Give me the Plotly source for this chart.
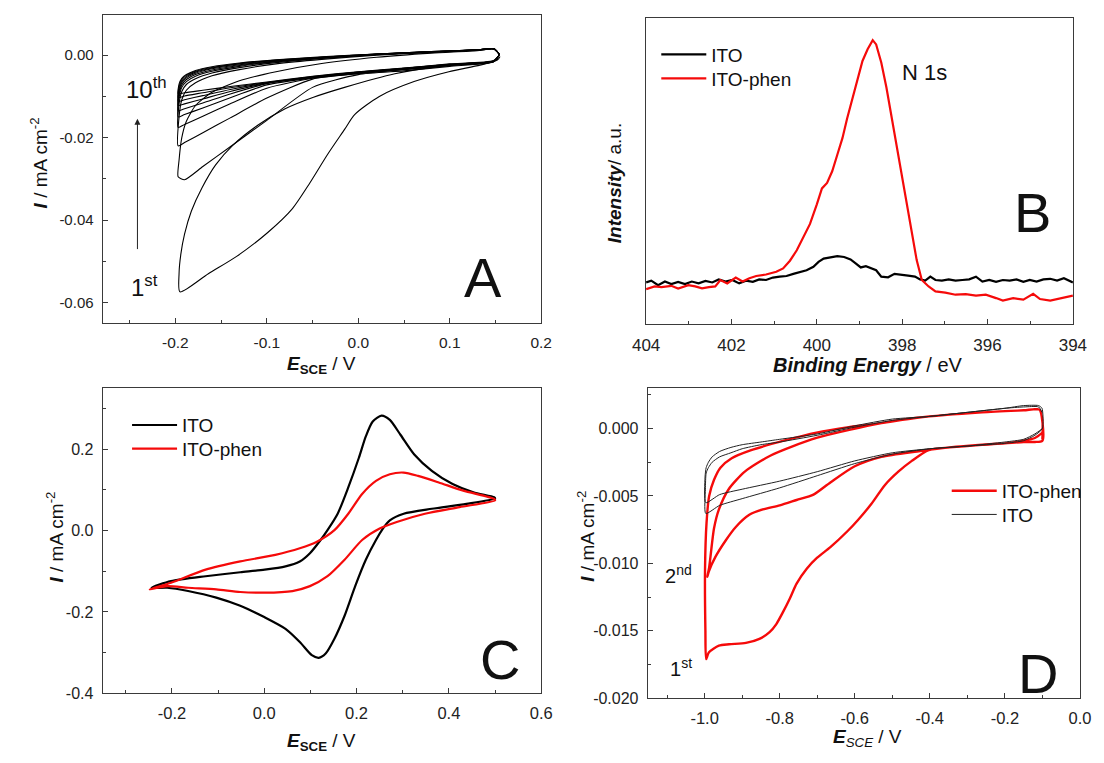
import plotly.graph_objects as go

FONT = "Arial, 'Liberation Sans', sans-serif"
W, H = 1104, 763

# ---------------- Panel A : 10 CV cycles (ITO in diazonium solution) ----------------
A_c1_x = [0.155, 0.152, 0.133, 0.099, 0.061, 0.023, -0.004, -0.015, -0.034, -0.053, -0.072, -0.099, -0.133, -0.164, -0.195,
          -0.196, -0.194, -0.190, -0.1825, -0.171, -0.156, -0.137, -0.110, -0.080, -0.049, -0.015, 0.040, 0.100, 0.148, 0.154]
A_c1_y = [-0.0003, -0.0012, -0.0024, -0.0040, -0.0064, -0.0100, -0.0144, -0.0180, -0.0242, -0.0310, -0.0372, -0.0430, -0.0488, -0.0530, -0.0574,
          -0.0530, -0.0482, -0.0434, -0.0378, -0.0322, -0.0266, -0.0218, -0.0170, -0.0130, -0.0102, -0.0078, -0.0045, -0.0024, -0.0016, -0.0008]

A_cat_x = [0.154, 0.148, 0.100, 0.050, 0.000, -0.050, -0.100, -0.140, -0.170, -0.190, -0.197]
A_an_x = [-0.196, -0.193, -0.188, -0.178, -0.160, -0.130, -0.090, -0.040, 0.020, 0.080, 0.130, 0.148, 0.154]

A_cat_y = {
    2: [0.0002, -0.0016, -0.0027, -0.0038, -0.0047, -0.0078, -0.0158, -0.0222, -0.0270, -0.0302, -0.0295],
    3: [0.0002, -0.0015, -0.0025, -0.0035, -0.0045, -0.0058, -0.0104, -0.0152, -0.0188, -0.0212, -0.0220],
    4: [0.0002, -0.0015, -0.0024, -0.0034, -0.0044, -0.0056, -0.0080, -0.0118, -0.0148, -0.0168, -0.0175],
    5: [0.0002, -0.0015, -0.0024, -0.0034, -0.0043, -0.0055, -0.0072, -0.0103, -0.0128, -0.0144, -0.0150],
    6: [0.0002, -0.0014, -0.0023, -0.0033, -0.0042, -0.0054, -0.0069, -0.0094, -0.0116, -0.0130, -0.0135],
    7: [0.0002, -0.0014, -0.0023, -0.0033, -0.0042, -0.0053, -0.0068, -0.0088, -0.0106, -0.0118, -0.0122],
    8: [0.0002, -0.0014, -0.0022, -0.0032, -0.0041, -0.0053, -0.0067, -0.0083, -0.0098, -0.0108, -0.0112],
    9: [0.0002, -0.0014, -0.0022, -0.0032, -0.0041, -0.0052, -0.0066, -0.0079, -0.0091, -0.0099, -0.0103],
    10: [0.0002, -0.0013, -0.0021, -0.0031, -0.0040, -0.0051, -0.0065, -0.0076, -0.0085, -0.0091, -0.0094],
}
A_an_y = {
    2: [-0.0255, -0.0200, -0.0160, -0.0122, -0.0090, -0.0062, -0.0040, -0.0020, -0.0005, 0.0005, 0.0011, 0.0015, 0.0002],
    3: [-0.0150, -0.0108, -0.0085, -0.0067, -0.0050, -0.0035, -0.0021, -0.0010, 0.0000, 0.0007, 0.0012, 0.0015, 0.0002],
    4: [-0.0118, -0.0088, -0.0071, -0.0057, -0.0043, -0.0030, -0.0018, -0.0008, 0.0001, 0.0008, 0.0012, 0.0015, 0.0002],
    5: [-0.0104, -0.0078, -0.0064, -0.0051, -0.0039, -0.0027, -0.0016, -0.0007, 0.0002, 0.0008, 0.0013, 0.0016, 0.0002],
    6: [-0.0095, -0.0072, -0.0059, -0.0047, -0.0036, -0.0025, -0.0015, -0.0006, 0.0002, 0.0008, 0.0013, 0.0016, 0.0002],
    7: [-0.0088, -0.0067, -0.0055, -0.0044, -0.0033, -0.0023, -0.0014, -0.0006, 0.0002, 0.0008, 0.0013, 0.0016, 0.0002],
    8: [-0.0082, -0.0063, -0.0052, -0.0041, -0.0031, -0.0021, -0.0013, -0.0005, 0.0003, 0.0009, 0.0013, 0.0016, 0.0002],
    9: [-0.0076, -0.0059, -0.0049, -0.0039, -0.0030, -0.0020, -0.0012, -0.0005, 0.0003, 0.0009, 0.0013, 0.0016, 0.0002],
    10: [-0.0070, -0.0056, -0.0047, -0.0037, -0.0028, -0.0019, -0.0011, -0.0004, 0.0003, 0.0009, 0.0013, 0.0016, 0.0002],
}

# ---------------- Panel B : XPS N 1s ----------------
B_ito_x = [404.00, 403.88, 403.72, 403.56, 403.41, 403.25, 403.09, 402.93, 402.77, 402.61, 402.45, 402.30, 402.14, 401.98,
           401.82, 401.66, 401.50, 401.35, 401.19, 401.03, 400.87, 400.71, 400.55, 400.39, 400.24, 400.08, 399.96, 399.84,
           399.68, 399.52, 399.36, 399.21, 399.09, 398.97, 398.85, 398.73, 398.61, 398.49, 398.33, 398.18, 398.02, 397.86,
           397.70, 397.58, 397.46, 397.34, 397.22, 397.07, 396.91, 396.75, 396.59, 396.43, 396.27, 396.12, 395.96, 395.80,
           395.64, 395.48, 395.32, 395.16, 395.01, 394.85, 394.69, 394.53, 394.37, 394.21, 394.00]
B_ito_y = [13.7, 14.3, 12.8, 14.0, 13.2, 13.9, 13.2, 14.0, 13.4, 14.2, 13.7, 14.7, 14.0, 14.5, 13.4, 14.3, 13.9, 14.7, 14.5,
           15.3, 15.6, 15.8, 16.5, 17.1, 17.7, 18.8, 20.4, 21.5, 22.0, 22.3, 22.0, 21.2, 19.9, 18.6, 19.0, 18.3, 17.7, 15.6,
           15.4, 16.5, 16.1, 15.9, 15.6, 14.7, 14.3, 15.6, 14.5, 14.3, 14.7, 14.3, 14.5, 14.7, 15.6, 14.0, 14.5, 13.9, 14.5,
           14.3, 14.7, 13.9, 14.5, 14.0, 14.7, 14.9, 14.3, 15.1, 13.7]
B_phen_x = [404.00, 403.80, 403.64, 403.41, 403.25, 403.01, 402.85, 402.69, 402.53, 402.38, 402.26, 402.10, 401.90, 401.74,
            401.58, 401.42, 401.19, 400.95, 400.79, 400.63, 400.47, 400.32, 400.16, 400.00, 399.88, 399.76, 399.64, 399.52,
            399.40, 399.29, 399.17, 399.05, 398.93, 398.81, 398.69, 398.61, 398.49, 398.37, 398.26, 398.14, 398.02, 397.90,
            397.78, 397.66, 397.54, 397.38, 397.22, 396.99, 396.75, 396.51, 396.27, 396.04, 395.80, 395.64, 395.40, 395.16,
            394.93, 394.77, 394.53, 394.29, 394.13, 394.00]
B_phen_y = [11.5, 12.4, 12.2, 12.6, 11.7, 12.8, 12.4, 11.8, 12.2, 12.4, 14.5, 13.4, 15.3, 14.0, 15.1, 15.8, 16.3, 17.2, 18.3,
            20.8, 24.2, 28.5, 32.8, 39.2, 44.4, 46.2, 50.0, 55.4, 60.8, 67.2, 73.7, 80.1, 86.0, 89.8, 92.8, 91.4, 85.5, 77.4,
            68.8, 59.7, 50.0, 40.3, 30.6, 21.0, 14.5, 12.4, 10.8, 10.4, 9.7, 9.9, 9.4, 9.7, 8.6, 7.8, 8.6, 8.1, 10.0, 8.3,
            7.8, 8.6, 9.1, 9.4]

# ---------------- Panel C : ferricyanide CVs ----------------
C_ito_x = [-0.244, -0.202, -0.127, -0.052, 0.001, 0.046, 0.077, 0.099, 0.122, 0.137, 0.159, 0.182, 0.205, 0.220, 0.235,
           0.254, 0.272, 0.295, 0.325, 0.363, 0.408, 0.453, 0.498, 0.500, 0.438, 0.363, 0.302, 0.272, 0.257, 0.242, 0.220,
           0.197, 0.174, 0.152, 0.133, 0.118, 0.103, 0.077, 0.046, 0.001, -0.052, -0.104, -0.165, -0.210, -0.244]
C_ito_y = [-0.1406, -0.1244, -0.1123, -0.1026, -0.0962, -0.0881, -0.0760, -0.0558, -0.0234, 0.0008, 0.0412, 0.1058, 0.1786,
           0.2311, 0.2675, 0.2820, 0.2715, 0.2351, 0.1866, 0.1463, 0.1139, 0.0937, 0.0816, 0.0790, 0.0655, 0.0533, 0.0412,
           0.0250, 0.0048, -0.0234, -0.0719, -0.1366, -0.2093, -0.2658, -0.3022, -0.3127, -0.3062, -0.2739, -0.2416,
           -0.2133, -0.1850, -0.1648, -0.1487, -0.1406, -0.1406]
C_phen_x = [-0.248, -0.202, -0.127, -0.052, 0.024, 0.077, 0.114, 0.152, 0.182, 0.212, 0.242, 0.272, 0.302, 0.333, 0.378,
            0.431, 0.498, 0.500, 0.423, 0.348, 0.287, 0.250, 0.212, 0.174, 0.137, 0.099, 0.061, 0.001, -0.052, -0.104,
            -0.165, -0.210, -0.248]
C_phen_y = [-0.1446, -0.1285, -0.0962, -0.0760, -0.0598, -0.0436, -0.0275, 0.0008, 0.0412, 0.0897, 0.1220, 0.1382, 0.1422,
            0.1341, 0.1180, 0.0978, 0.0776, 0.0740, 0.0574, 0.0412, 0.0210, 0.0048, -0.0234, -0.0719, -0.1123, -0.1366,
            -0.1487, -0.1527, -0.1511, -0.1446, -0.1406, -0.1366, -0.1446]

# ---------------- Panel D : blank electrolyte CVs ----------------
D_phen_x = [-0.100, -0.120, -0.150, -0.200, -0.261, -0.347, -0.403, -0.448, -0.484, -0.520, -0.556, -0.592, -0.619, -0.665,
            -0.701, -0.728, -0.755, -0.773, -0.791, -0.809, -0.827, -0.854, -0.890, -0.935, -0.962, -0.989, -0.996,
            -0.998, -0.999, -0.995, -0.988, -0.975, -0.958, -0.928, -0.876, -0.789, -0.702, -0.616, -0.529, -0.434,
            -0.261, -0.150, -0.108, -0.100,
            -0.100, -0.120, -0.150, -0.200, -0.261, -0.347, -0.434, -0.529, -0.600, -0.665, -0.710, -0.755, -0.800,
            -0.845, -0.881, -0.917, -0.944, -0.971, -0.989, -0.993,
            -0.988, -0.975, -0.962, -0.936, -0.893, -0.824, -0.702, -0.529, -0.434, -0.261, -0.150, -0.108, -0.100, -0.100]
D_phen_y = [-0.0003, -0.0007, -0.0009, -0.0011, -0.0012, -0.0014, -0.0016, -0.0024, -0.0032, -0.0042, -0.0056, -0.0068,
            -0.0076, -0.0088, -0.0096, -0.0104, -0.0115, -0.0126, -0.0136, -0.0145, -0.0151, -0.0156, -0.0159, -0.0160,
            -0.0161, -0.0166, -0.0171,
            -0.0150, -0.0104, -0.0070, -0.0050, -0.0038, -0.0029, -0.0022, -0.0016, -0.0009, -0.0003, 0.0001, 0.0004,
            0.0008, 0.0012, 0.00135, 0.0014, 0.0005,
            -0.0009, -0.0010, -0.0010, -0.0011, -0.0012, -0.0014, -0.0017, -0.0021, -0.0028, -0.0040, -0.0049, -0.0053,
            -0.0057, -0.0060, -0.0064, -0.0073, -0.0083, -0.0095, -0.0106, -0.0110,
            -0.0103, -0.0074, -0.0060, -0.0045, -0.0032, -0.0020, -0.0007, 0.0004, 0.0008, 0.0012, 0.00135, 0.0014,
            0.0006, -0.0008]
D_ito_x = [-0.100, -0.120, -0.150, -0.200, -0.300, -0.400, -0.500, -0.600, -0.700, -0.800, -0.900, -0.960, -0.997,
           -0.999, -0.996, -0.990, -0.980, -0.960, -0.930, -0.900, -0.850, -0.800, -0.700, -0.600, -0.500, -0.400,
           -0.300, -0.200, -0.150, -0.110, -0.101,
           -0.100, -0.120, -0.150, -0.200, -0.300, -0.400, -0.500, -0.600, -0.700, -0.800, -0.900, -0.960, -0.997,
           -0.998, -0.996, -0.990, -0.980, -0.960, -0.930, -0.900, -0.850, -0.800, -0.700, -0.600, -0.500, -0.400,
           -0.300, -0.200, -0.150, -0.110, -0.101]
D_ito_y = [0.0000, -0.0004, -0.0008, -0.0010, -0.0013, -0.0015, -0.0018, -0.0024, -0.0032, -0.0039, -0.0045, -0.0049,
           -0.0055,
           -0.0036, -0.0029, -0.0025, -0.0021, -0.0017, -0.0014, -0.0012, -0.0010, -0.0008, -0.0004, 0.0002, 0.0007,
           0.0009, 0.0012, 0.0015, 0.0017, 0.0017, 0.0015,
           0.0000, -0.0005, -0.0009, -0.0011, -0.0013, -0.0015, -0.0019, -0.0026, -0.0035, -0.0044, -0.0052, -0.0057,
           -0.0063,
           -0.0045, -0.0033, -0.0029, -0.0025, -0.0021, -0.0018, -0.0015, -0.0012, -0.0010, -0.0005, 0.0001, 0.0006,
           0.0009, 0.0012, 0.0015, 0.0016, 0.0016, 0.0012]

# ---------------- ticks ----------------
A_xt = [-0.2, -0.1, 0.0, 0.1, 0.2]
A_xl = ["-0.2", "-0.1", "0.0", "0.1", "0.2"]
A_yt = [0.0, -0.02, -0.04, -0.06]
A_yl = ["0.00", "-0.02", "-0.04", "-0.06"]
B_xt = [404, 402, 400, 398, 396, 394]
B_xl = ["404", "402", "400", "398", "396", "394"]
C_xt = [-0.2, 0.0, 0.2, 0.4, 0.6]
C_xl = ["-0.2", "0.0", "0.2", "0.4", "0.6"]
C_yt = [0.2, 0.0, -0.2, -0.4]
C_yl = ["0.2", "0.0", "-0.2", "-0.4"]
D_xt = [-1.0, -0.8, -0.6, -0.4, -0.2, 0.0]
D_xl = ["-1.0", "-0.8", "-0.6", "-0.4", "-0.2", "0.0"]
D_yt = [0.0, -0.005, -0.010, -0.015, -0.020]
D_yl = ["0.000", "-0.005", "-0.010", "-0.015", "-0.020"]

RED = "#f50a0a"
fig = go.Figure()

fig.add_trace(go.Scatter(x=A_c1_x, y=A_c1_y, mode="lines", showlegend=False,
                         line=dict(color="black", width=1.1, shape="spline", smoothing=0.7), xaxis="x", yaxis="y"))
for n in range(2, 11):
    fig.add_trace(go.Scatter(x=A_cat_x + A_an_x, y=A_cat_y[n] + A_an_y[n], mode="lines", showlegend=False,
                             line=dict(color="black", width=1.1, shape="spline", smoothing=0.6), xaxis="x", yaxis="y"))

fig.add_trace(go.Scatter(x=B_ito_x, y=B_ito_y, mode="lines", name="ITO", legend="legend",
                         line=dict(color="black", width=2.2), xaxis="x2", yaxis="y2"))
fig.add_trace(go.Scatter(x=B_phen_x, y=B_phen_y, mode="lines", name="ITO-phen", legend="legend2",
                         line=dict(color=RED, width=2.2), xaxis="x2", yaxis="y2"))

fig.add_trace(go.Scatter(x=C_ito_x, y=C_ito_y, mode="lines", name="ITO", legend="legend3",
                         line=dict(color="black", width=2.2, shape="spline", smoothing=0.7), xaxis="x3", yaxis="y3"))
fig.add_trace(go.Scatter(x=C_phen_x, y=C_phen_y, mode="lines", name="ITO-phen", legend="legend4",
                         line=dict(color=RED, width=2.2, shape="spline", smoothing=0.7), xaxis="x3", yaxis="y3"))

fig.add_trace(go.Scatter(x=D_phen_x, y=D_phen_y, mode="lines", name="ITO-phen", legend="legend5",
                         line=dict(color=RED, width=2.4, shape="spline", smoothing=0.7), xaxis="x4", yaxis="y4"))
fig.add_trace(go.Scatter(x=D_ito_x, y=D_ito_y, mode="lines", name="ITO", legend="legend6",
                         line=dict(color="#222222", width=1.0, shape="spline", smoothing=0.6), xaxis="x4", yaxis="y4"))


def ax(domain, rng, tv, tt, minor_dtick, anchor, ticks=True, fs=16):
    d = dict(domain=domain, range=rng, anchor=anchor, showline=True, linecolor="#3a3a3a", linewidth=1.2,
             mirror=True, showgrid=False, zeroline=False,
             tickfont=dict(family=FONT, size=fs, color="#222"), ticklabelstandoff=5)
    if ticks:
        d.update(tickmode="array", tickvals=tv, ticktext=tt, ticks="inside", ticklen=5, tickwidth=1,
                 tickcolor="#3a3a3a",
                 minor=dict(ticks="inside", ticklen=3, tickwidth=1, tickcolor="#3a3a3a", dtick=minor_dtick,
                            tick0=0, showgrid=False))
    else:
        d.update(ticks="", showticklabels=False)
    return d


def px_x(p):
    return p / W


def px_y(p):
    return 1 - p / H


def leg(xpx, ytop_px):
    return dict(x=px_x(xpx), y=px_y(ytop_px), xanchor="left", yanchor="top", bgcolor="rgba(0,0,0,0)",
                font=dict(family=FONT, size=19, color="#111"), itemwidth=45, borderwidth=0)


fig.update_layout(
    width=W, height=H, autosize=False, margin=dict(l=0, r=0, t=0, b=0),
    paper_bgcolor="white", plot_bgcolor="white", font=dict(family=FONT, color="#111"),
    xaxis=ax([px_x(91), px_x(541)], [-0.2795, 0.2001], A_xt, A_xl, 0.05, "y", fs=15.5),
    yaxis=ax([px_y(327), px_y(15)], [-0.065, 0.0098], A_yt, A_yl, 0.01, "x", fs=15),
    xaxis2=ax([px_x(648.5), px_x(1086.5)], [404.002, 393.998], B_xt, B_xl, 1, "y2", fs=17),
    yaxis2=ax([px_y(328.3), px_y(18.3)], [0, 100], None, None, None, "x2", ticks=False),
    xaxis3=ax([px_x(91), px_x(541)], [-0.35, 0.6001], C_xt, C_xl, 0.1, "y3", fs=16.5),
    yaxis3=ax([px_y(701.7), px_y(392.3)], [-0.4001, 0.3507], C_yt, C_yl, 0.1, "x3", fs=16),
    xaxis4=ax([px_x(650.3), px_x(1093.7)], [-1.1515, 0.0001], D_xt, D_xl, 0.1, "y4", fs=16.5),
    yaxis4=ax([px_y(706.7), px_y(392.7)], [-0.02001, 0.003], D_yt, D_yl, 0.0025, "x4", fs=16),
    legend=leg(659, 36), legend2=leg(659, 60.3),
    legend3=leg(116, 411), legend4=leg(116, 435),
    legend5=leg(957, 477.5), legend6=leg(957, 501.5),
)

annots = []
tf = dict(family=FONT, color="#111")
# axis titles
annots += [
    dict(text="<b><i>I</i></b> / mA cm<sup>-2</sup>", x=px_x(26), y=px_y(165), textangle=-90, font=dict(size=19, **tf)),
    dict(text="<b><i>E</i><sub>SCE</sub></b> / V", x=px_x(316), y=px_y(369), font=dict(size=19, **tf)),
    dict(text="<b><i>Intensity</i></b>/ a.u.", x=px_x(616), y=px_y(185), textangle=-90, font=dict(size=19, **tf)),
    dict(text="<b><i>Binding Energy</i></b> / eV", x=px_x(876), y=px_y(369), font=dict(size=20, **tf)),
    dict(text="<b><i>I</i></b> / mA cm<sup>-2</sup>", x=px_x(42), y=px_y(543), textangle=-90, font=dict(size=19, **tf)),
    dict(text="<b><i>E</i><sub>SCE</sub></b> / V", x=px_x(316), y=px_y(751), font=dict(size=19, **tf)),
    dict(text="<b><i>I</i></b> / mA cm<sup>-2</sup>", x=px_x(586), y=px_y(543), textangle=-90, font=dict(size=19, **tf)),
    dict(text="<b><i>E</i></b><i><sub>SCE</sub></i> / V", x=px_x(876), y=px_y(747), font=dict(size=19, **tf)),
]
for a in annots:
    a.update(xref="paper", yref="paper", showarrow=False, xanchor="center", yanchor="middle")

inplot = [
    dict(text="10<sup>th</sup>", x=-0.2567, y=-0.0080, xref="x", yref="y", xanchor="left", font=dict(size=24, **tf)),
    dict(text="1<sup>st</sup>", x=-0.2510, y=-0.0560, xref="x", yref="y", xanchor="left", font=dict(size=24, **tf)),
    dict(text="A", x=0.136, y=-0.0539, xref="x", yref="y", xanchor="center", font=dict(size=56, **tf)),
    dict(text="N 1s", x=398.06, y=82.4, xref="x2", yref="y2", xanchor="left", font=dict(size=22, **tf)),
    dict(text="B", x=394.95, y=36.6, xref="x2", yref="y2", xanchor="center", font=dict(size=56, **tf)),
    dict(text="C", x=0.511, y=-0.318, xref="x3", yref="y3", xanchor="center", font=dict(size=56, **tf)),
    dict(text="D", x=-0.1127, y=-0.0182, xref="x4", yref="y4", xanchor="center", font=dict(size=56, **tf)),
    dict(text="2<sup>nd</sup>", x=-1.111, y=-0.01085, xref="x4", yref="y4", xanchor="left", font=dict(size=20, **tf)),
    dict(text="1<sup>st</sup>", x=-1.097, y=-0.0177, xref="x4", yref="y4", xanchor="left", font=dict(size=20, **tf)),
]
for a in inplot:
    a.update(showarrow=False, yanchor="middle")
annots += inplot
# growth arrow (1st -> 10th)
annots.append(dict(x=-0.2415, y=-0.0154, ax=-0.2415, ay=-0.0474, xref="x", yref="y", axref="x", ayref="y",
                   text="", showarrow=True, arrowhead=2, arrowsize=1.2, arrowwidth=1, arrowcolor="#222"))

fig.update_layout(annotations=annots)
fig.write_html("out.html")
